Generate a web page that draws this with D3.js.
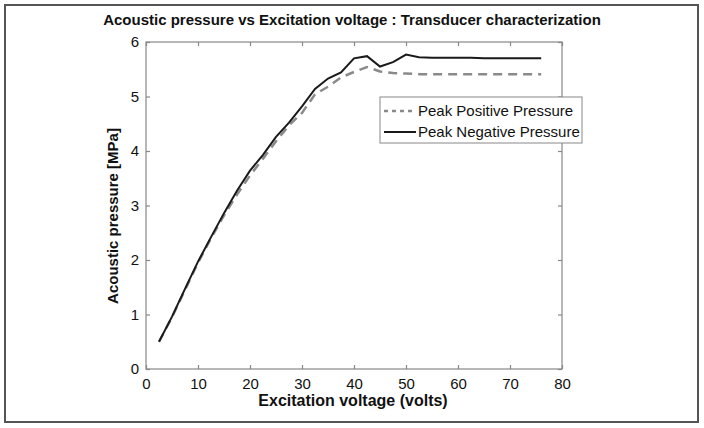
<!DOCTYPE html>
<html><head><meta charset="utf-8">
<script src="https://cdn.jsdelivr.net/npm/d3@7"></script>
<style>body{margin:0;background:#fff;}svg{display:block;font-family:"Liberation Sans",Arial,Helvetica,sans-serif;}</style>
</head><body><svg id="c" width="704" height="428"></svg>
<script>
const voltage = [2.5,5,7.5,10,12.5,15,17.5,20,22.5,25,27.5,30,32.5,35,37.5,40,42.5,45,47.5,50,52.5,55,57.5,60,62.5,65,67.5,70,72.5,76];
const peakPositive = [0.5,0.95,1.45,1.95,2.4,2.82,3.2,3.55,3.86,4.18,4.47,4.7,5.04,5.18,5.35,5.45,5.54,5.46,5.43,5.42,5.41,5.41,5.41,5.41,5.41,5.41,5.41,5.41,5.41,5.41];
const peakNegative = [0.5,0.96,1.47,1.97,2.42,2.86,3.27,3.64,3.93,4.26,4.52,4.82,5.14,5.33,5.44,5.7,5.74,5.55,5.63,5.77,5.72,5.71,5.71,5.71,5.71,5.7,5.7,5.7,5.7,5.7];
const xTicks = [0,10,20,30,40,50,60,70,80];
const yTicks = [0,1,2,3,4,5,6];
const seriesNames = ["Peak Positive Pressure","Peak Negative Pressure"];
const titleText = "Acoustic pressure vs Excitation voltage : Transducer characterization";
const xLabel = "Excitation voltage (volts)";
const yLabel = "Acoustic pressure [MPa]";

const svg = d3.select("#c");
const L=146, R=562, T=42, B=369;
const x = d3.scaleLinear().domain([0,80]).range([L,R]);
const y = d3.scaleLinear().domain([0,6]).range([B,T]);

// outer frame
svg.append("rect").attr("x",5).attr("y",5).attr("width",693).attr("height",417)
  .attr("fill","none").attr("stroke","#555").attr("stroke-width",2);

// title
svg.append("text").attr("x",352).attr("y",25).attr("text-anchor","middle")
  .attr("font-weight","bold").attr("font-size",15).attr("fill","#111").text(titleText);

const axisColor="#888";
svg.append("rect").attr("x",L).attr("y",T).attr("width",R-L).attr("height",B-T)
  .attr("fill","none").attr("stroke",axisColor).attr("stroke-width",1.2);

const tk=4;
function styleAxis(g){ g.select(".domain").remove(); g.selectAll("line").attr("stroke",axisColor).attr("stroke-width",1.2);
  g.selectAll("text").attr("fill","#111").attr("font-size",15).attr("font-family","Liberation Sans, Arial, sans-serif"); }
svg.append("g").attr("transform",`translate(0,${B})`)
  .call(d3.axisBottom(x).tickValues(xTicks).tickSize(-tk).tickPadding(9).tickFormat(d3.format("d"))).call(styleAxis)
  .selectAll("text").attr("dy","0.71em");
svg.append("g").attr("transform",`translate(0,${T})`)
  .call(d3.axisTop(x).tickValues(xTicks).tickSize(-tk).tickFormat("")).call(styleAxis);
svg.append("g").attr("transform",`translate(${L},0)`)
  .call(d3.axisLeft(y).tickValues(yTicks).tickSize(-tk).tickPadding(7).tickFormat(d3.format("d"))).call(styleAxis);
svg.append("g").attr("transform",`translate(${R},0)`)
  .call(d3.axisRight(y).tickValues(yTicks).tickSize(-tk).tickFormat("")).call(styleAxis);

svg.append("text").attr("x",353).attr("y",406).attr("text-anchor","middle")
  .attr("font-weight","bold").attr("font-size",16).attr("fill","#111").text(xLabel);
svg.append("text").attr("transform","translate(118,216) rotate(-90)").attr("text-anchor","middle")
  .attr("font-weight","bold").attr("font-size",15).attr("fill","#111").text(yLabel);

const line = d3.line().x(d=>x(d[0])).y(d=>y(d[1]));
svg.append("path").datum(voltage.map((v,i)=>[v,peakPositive[i]])).attr("d",line)
  .attr("fill","none").attr("stroke","#8a8a8a").attr("stroke-width",2.5).attr("stroke-dasharray","9,6");
svg.append("path").datum(voltage.map((v,i)=>[v,peakNegative[i]])).attr("d",line)
  .attr("fill","none").attr("stroke","#1a1a1a").attr("stroke-width",2);

const lg = svg.append("g");
lg.append("rect").attr("x",380).attr("y",97).attr("width",202).attr("height",46)
  .attr("fill","#fff").attr("stroke",axisColor).attr("stroke-width",1);
const styles=[{c:"#8a8a8a",w:2.5,d:"4,4"},{c:"#1a1a1a",w:2,d:null}];
seriesNames.forEach((n,i)=>{
  const yy=111+i*21;
  lg.append("line").attr("x1",384).attr("x2",416).attr("y1",yy).attr("y2",yy)
    .attr("stroke",styles[i].c).attr("stroke-width",styles[i].w).attr("stroke-dasharray",styles[i].d);
  lg.append("text").attr("x",418).attr("y",yy+5).attr("font-size",15).attr("fill","#111").text(n);
});
</script></body></html>
